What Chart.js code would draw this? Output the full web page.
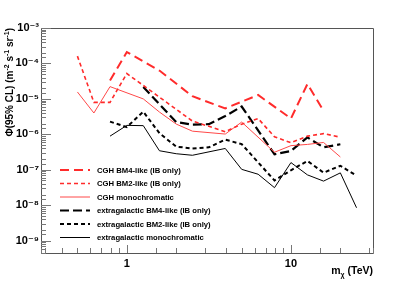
<!DOCTYPE html>
<html>
<head>
<meta charset="utf-8">
<script src="https://cdn.jsdelivr.net/npm/chart.js@4"></script>
<style>
  html, body { margin: 0; padding: 0; background: #fff; }
  #wrap { width: 415px; height: 282px; position: relative; }
</style>
</head>
<body>
<div id="wrap"><canvas id="c"></canvas></div>
<script>
// Dark-matter mass grid (TeV)
const masses = [0.5, 0.63, 0.79, 1.0, 1.26, 1.58, 2.0, 2.51, 3.16, 3.98, 5.01, 6.31, 7.94, 10.0, 12.6, 15.8, 20.0, 25.1];

// Flux upper limits Phi(95% CL) in m^-2 s^-1 sr^-1 (null = no vertex at that mass)
const cghBM4  = [null, null, 3.3e-5, 2.1e-4, null, 6.3e-5, null, 1.19e-5, null, 5.4e-6, null, 1.29e-5, null, 2.8e-6, 2.64e-5, 4.6e-6, null, null];
const cghBM2  = [1.61e-4, 8.0e-6, 8.0e-6, 5.2e-5, null, null, null, 2.37e-6, null, 1.19e-6, 1.94e-6, 2.79e-6, 8.5e-7, 5.8e-7, 8.9e-7, 1.05e-6, 8.3e-7, null];
const cghMono = [1.57e-5, 4.0e-6, 2.22e-5, null, 1.0e-5, 4.26e-6, 1.95e-6, 1.23e-6, null, 1.02e-6, 2.22e-6, null, 3.13e-7, 4.8e-7, 5.2e-7, 5.9e-7, 2.3e-7, null];
const egBM4   = [null, null, null, null, 2.17e-5, null, 2.22e-6, 1.88e-6, 1.94e-6, 3.28e-6, 6.1e-6, null, 2.75e-7, 3.4e-7, 8.2e-7, 4.3e-7, 5.25e-7, null];
const egBM2   = [null, null, 2.29e-6, 1.6e-6, 4.34e-6, 1.08e-6, 4.5e-7, 4.0e-7, 4.3e-7, 7.1e-7, 5.3e-7, null, 5.0e-8, 9.7e-8, 1.78e-7, 8.3e-8, 1.3e-7, 6.8e-8];
const egMono  = [null, null, 8.9e-7, 1.79e-6, 1.76e-6, 3.45e-7, 2.84e-7, 2.57e-7, null, 4.0e-7, 1.03e-7, 7.5e-8, 3.13e-8, 1.6e-7, 7.2e-8, 4.8e-8, 8.2e-8, 8.5e-9];

const seriesLabels = [
  "CGH BM4-like (IB only)",
  "CGH BM2-like (IB only)",
  "CGH monochromatic",
  "extragalactic BM4-like (IB only)",
  "extragalactic BM2-like (IB only)",
  "extragalactic monochromatic"
];

// Axis tick labels
const xTickLabels = { 1: "1", 10: "10" };
const yTickExponents = [-9, -8, -7, -6, -5, -4, -3];

const xTitle = ["m", "χ", " (TeV)"];
const yTitle = "Φ(95% CL) (m";

function pts(arr) {
  const out = [];
  arr.forEach((v, i) => { if (v !== null) out.push({ x: masses[i], y: v }); });
  return out;
}

const RED = "#ff2b2b";
const styles = [
  { color: RED, width: 2.0, dash: [9, 5] },
  { color: RED, width: 1.6, dash: [4, 3] },
  { color: "#ff4848", width: 1.0, dash: [] },
  { color: "#000", width: 2.2, dash: [9, 4] },
  { color: "#000", width: 2.0, dash: [4, 3] },
  { color: "#000", width: 1.0, dash: [] }
];
const seriesData = [cghBM4, cghBM2, cghMono, egBM4, egBM2, egMono];

const supMap = { "-": "⁻", "0": "⁰", "1": "¹", "2": "²", "3": "³", "4": "⁴", "5": "⁵", "6": "⁶", "7": "⁷", "8": "⁸", "9": "⁹" };
function sup(s) { return String(s).split("").map(c => supMap[c] || c).join(""); }

const FONT = "'Liberation Sans', Arial, 'DejaVu Sans', sans-serif";

const framePlugin = {
  id: "frame",
  afterDraw(chart) {
    const ctx = chart.ctx;
    const a = chart.chartArea;
    const xs = chart.scales.x, ys = chart.scales.y;
    ctx.save();
    // frame
    ctx.strokeStyle = "#555";
    ctx.lineWidth = 1;
    ctx.beginPath();
    ctx.rect(Math.round(a.left) + 0.5, Math.round(a.top) + 0.5, Math.round(a.right - a.left), Math.round(a.bottom - a.top));
    ctx.stroke();
    // y ticks (inside)
    ctx.strokeStyle = "#777";
    ys.ticks.forEach(t => {
      const v = t.value;
      const e = Math.log10(v);
      const major = Math.abs(e - Math.round(e)) < 1e-6;
      const y = Math.round(ys.getPixelForValue(v)) + 0.5;
      if (y < a.top - 1 || y > a.bottom + 1) return;
      ctx.beginPath();
      ctx.moveTo(a.left, y);
      ctx.lineTo(a.left + (major ? 10 : 5), y);
      ctx.stroke();
    });
    // x ticks (inside)
    xs.ticks.forEach(t => {
      const v = t.value;
      const e = Math.log10(v);
      const major = Math.abs(e - Math.round(e)) < 1e-6;
      const x = Math.round(xs.getPixelForValue(v)) + 0.5;
      if (x < a.left - 1 || x > a.right + 1) return;
      ctx.beginPath();
      ctx.moveTo(x, a.bottom);
      ctx.lineTo(x, a.bottom - (major ? 8 : 5));
      ctx.stroke();
    });

    // x title: m_chi (TeV), right-aligned at chart right edge
    ctx.fillStyle = "#000";
    ctx.textBaseline = "alphabetic";
    const big = "bold 10.5px " + FONT, small = "bold 7px " + FONT;
    ctx.font = big; const w1 = ctx.measureText(xTitle[0]).width, w3 = ctx.measureText(xTitle[2]).width;
    ctx.font = small; const w2 = ctx.measureText(xTitle[1]).width;
    let xx = a.right - (w1 + w2 + w3);
    const by = 274;
    ctx.font = big; ctx.textAlign = "left"; ctx.fillText(xTitle[0], xx, by); xx += w1;
    ctx.font = small; ctx.fillText(xTitle[1], xx, by + 3); xx += w2;
    ctx.font = big; ctx.fillText(xTitle[2], xx, by);

    // y title rotated, right-aligned to top
    const parts = [
      { t: yTitle, s: false }, { t: "-2", s: true }, { t: " s", s: false }, { t: "-1", s: true },
      { t: " sr", s: false }, { t: "-1", s: true }, { t: ")", s: false }
    ];
    const fb = "bold 10px " + FONT, fs = "bold 7px " + FONT;
    let total = 0;
    parts.forEach(p => { ctx.font = p.s ? fs : fb; p.w = ctx.measureText(p.t).width; total += p.w; });
    ctx.translate(13, a.top);
    ctx.rotate(-Math.PI / 2);
    let px = -total;
    parts.forEach(p => {
      ctx.font = p.s ? fs : fb;
      ctx.fillText(p.t, px, p.s ? -4 : 0);
      px += p.w;
    });
    ctx.restore();

    // legend
    ctx.save();
    const rowY = [170, 183.5, 197, 210.5, 224, 237.5];
    chart.data.datasets.forEach((ds, i) => {
      const y = rowY[i];
      ctx.strokeStyle = ds.borderColor;
      ctx.lineWidth = ds.borderWidth;
      ctx.setLineDash(ds.borderDash || []);
      ctx.beginPath();
      ctx.moveTo(60, y);
      ctx.lineTo(90, y);
      ctx.stroke();
      ctx.setLineDash([]);
      ctx.fillStyle = "#000";
      ctx.font = "bold 7.7px " + FONT;
      ctx.textAlign = "left";
      ctx.textBaseline = "middle";
      ctx.fillText(ds.label, 97, y + 0.5);
    });
    ctx.restore();
  }
};

new Chart(document.getElementById("c"), {
  type: "line",
  data: {
    datasets: seriesData.map((arr, i) => ({
      label: seriesLabels[i],
      data: pts(arr),
      borderColor: styles[i].color,
      borderWidth: styles[i].width,
      borderDash: styles[i].dash,
      pointRadius: 0,
      tension: 0,
      fill: false
    }))
  },
  options: {
    responsive: true,
    maintainAspectRatio: false,
    animation: false,
    events: [],
    layout: { padding: { top: 28, right: 42, left: 0, bottom: 0 } },
    plugins: { legend: { display: false }, tooltip: { enabled: false }, title: { display: false } },
    scales: {
      x: {
        type: "logarithmic",
        min: 0.3162,
        max: 31.62,
        grid: { display: false, drawTicks: false, tickLength: 0 },
        border: { display: false },
        afterFit(s) { s.height = 29; },
        ticks: {
          autoSkip: false,
          maxRotation: 0,
          padding: 4,
          color: "#000",
          font: { family: FONT, size: 11, weight: "bold" },
          callback(v) { return xTickLabels[Math.round(v * 1000) / 1000] || ""; }
        }
      },
      y: {
        type: "logarithmic",
        min: 4.5e-10,
        max: 1e-3,
        grid: { display: false, drawTicks: false, tickLength: 0 },
        border: { display: false },
        afterFit(s) { s.width = 41; },
        ticks: {
          autoSkip: false,
          padding: 2,
          color: "#000",
          font: { family: FONT, size: 11, weight: "bold" },
          callback(v) {
            const e = Math.log10(v);
            const r = Math.round(e);
            if (Math.abs(e - r) < 1e-6 && yTickExponents.includes(r)) return "10" + sup(r);
            return "";
          }
        }
      }
    }
  },
  plugins: [framePlugin]
});
</script>
</body>
</html>
